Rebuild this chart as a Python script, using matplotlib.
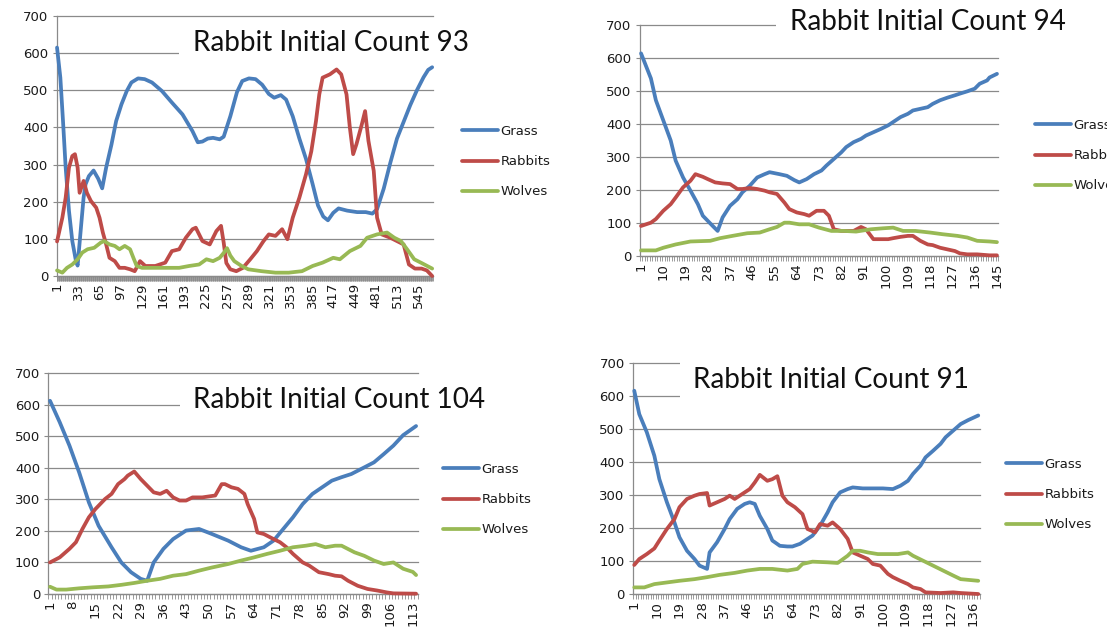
import numpy as np
import matplotlib
matplotlib.use('Agg')
import matplotlib.pyplot as plt
from matplotlib.patches import Rectangle

W, H, DPI = 1107, 635, 100

# ---------------- data ----------------
series_names = ['Grass', 'Rabbits', 'Wolves']

# Panel 1: Rabbit Initial Count 93 (566 steps)
p1_n = 566
p1_grass_x = [1,6,10,14,19,24,29,32,37,41,44,49,56,63,69,75,83,90,98,106,113,123,133,144,159,174,190,205,213,220,
              228,236,246,252,262,272,280,290,300,310,320,328,338,346,356,366,376,386,394,402,409,417,425,438,453,466,
              476,483,493,503,513,523,533,543,553,560,566]
p1_grass_y = [615,534,417,292,175,94,45,28,130,211,247,269,284,262,236,292,354,417,462,498,521,532,530,521,498,467,
              435,390,360,362,370,372,368,375,430,495,525,532,530,515,490,480,487,475,430,370,315,247,190,160,150,170,
              182,176,172,172,168,180,235,305,370,415,460,500,535,555,562]
p1_rabbit_x = [1,9,14,19,24,28,32,35,41,46,52,60,65,70,75,80,88,95,103,111,118,126,134,149,164,174,185,195,205,210,
               220,231,241,248,252,256,262,271,281,292,302,312,320,330,340,348,356,366,376,384,391,396,401,412,422,429,
               437,442,447,452,460,465,470,478,483,490,503,513,523,531,540,550,558,566]
p1_rabbit_y = [93,157,211,292,323,328,292,224,256,224,202,184,157,117,85,49,40,22,22,18,13,40,27,27,36,67,72,103,126,
               130,94,85,121,135,90,35,18,13,22,45,67,94,112,108,126,99,157,211,274,336,417,489,534,543,556,543,489,
               400,328,355,408,444,364,283,157,112,103,94,85,31,20,20,15,0]
p1_wolf_x = [1,9,16,24,32,39,47,57,67,72,80,88,95,103,111,116,121,129,144,164,185,200,215,226,236,246,252,257,262,
             268,279,289,309,330,350,370,386,401,417,427,442,458,468,483,498,509,519,529,539,550,566]
p1_wolf_y = [15,9,22,31,45,63,72,76,90,94,85,81,72,81,72,49,27,22,22,22,22,27,31,45,40,49,62,75,55,40,27,18,13,9,9,
             13,27,36,49,45,67,81,103,112,117,103,94,70,45,35,20]

# Panel 2: Rabbit Initial Count 94 (145 steps)
p2_n = 145
p2_grass_x = [1,5,7,10,13,15,18,21,24,26,30,32,34,37,40,42,45,48,51,53,57,60,63,65,68,71,74,76,79,82,84,87,90,92,95,
              98,101,103,106,109,111,114,117,119,122,125,128,130,133,136,138,141,142,145]
p2_grass_y = [614,538,472,411,350,289,238,198,157,122,91,76,117,152,172,193,213,238,248,254,248,243,230,223,233,248,
              259,274,294,314,330,345,355,365,375,385,396,406,421,431,441,446,451,461,472,480,487,492,499,507,522,532,
              541,552]
p2_rabbit_x = [1,5,7,10,13,15,18,21,23,26,28,31,34,37,40,42,45,48,51,53,56,59,61,64,67,69,72,75,77,79,82,84,87,90,92,
               95,98,101,103,106,109,111,114,117,119,122,125,128,130,133,137,142,145]
p2_rabbit_y = [91,101,112,137,157,177,208,228,248,240,233,223,220,218,203,203,206,203,198,193,188,162,142,132,127,122,
               137,137,122,81,76,76,76,88,81,51,51,51,54,58,61,61,46,35,33,25,20,15,8,5,5,2,2]
p2_wolf_x = [1,7,10,15,21,29,33,38,44,49,53,56,59,61,65,69,73,78,83,88,94,99,103,107,112,118,123,129,133,137,142,145]
p2_wolf_y = [17,17,25,35,44,46,54,61,69,71,81,88,101,101,96,96,86,76,76,74,81,84,86,76,76,71,66,61,56,46,44,42]

# Panel 3: Rabbit Initial Count 104 (114 steps)
p3_n = 114
p3_grass_x = [1,4,7,10,13,16,20,23,26,29,31,33,36,39,43,47,51,56,60,63,67,70,73,76,79,82,85,88,91,94,98,101,104,107,
              110,114]
p3_grass_y = [612,544,470,385,290,216,148,100,69,48,42,100,143,174,201,206,190,169,148,137,148,169,206,243,285,317,
              338,359,370,380,401,417,443,470,503,532]
p3_rabbit_x = [1,4,7,9,11,13,15,18,20,22,24,25,27,29,31,33,35,37,39,41,43,45,48,52,54,55,57,59,61,62,64,65,67,70,72,
               74,76,79,81,84,87,89,91,93,96,99,102,105,107,114]
p3_rabbit_y = [100,116,143,164,206,243,269,301,317,348,364,375,388,364,343,322,317,327,306,296,296,306,306,312,348,
               348,338,333,317,285,238,195,190,174,164,148,127,100,90,69,63,58,56,42,26,16,11,5,2,1]
p3_wolf_x = [1,3,6,10,14,19,23,27,31,35,39,43,47,51,56,60,64,68,72,76,80,83,86,89,91,95,98,101,104,107,110,113,114]
p3_wolf_y = [23,14,14,18,21,24,29,35,42,48,58,63,74,84,95,106,116,127,137,148,153,158,148,153,153,132,121,106,95,
             100,80,70,60]

# Panel 4: Rabbit Initial Count 91 (138 steps)
p4_n = 138
p4_grass_x = [1,3,6,9,11,14,17,19,22,25,27,30,31,34,37,39,42,45,47,49,51,54,56,59,62,64,67,70,72,75,78,80,83,86,88,
              92,96,100,104,107,110,112,115,117,120,123,125,128,131,134,138]
p4_grass_y = [616,545,490,419,348,278,217,172,131,106,86,76,126,157,197,227,258,273,278,273,237,197,162,146,144,144,
              152,167,177,207,247,278,308,318,323,320,320,320,318,328,343,364,389,414,434,455,475,495,515,527,541]
p4_rabbit_x = [1,3,6,9,11,14,17,19,22,25,27,30,31,34,37,39,41,44,47,49,51,54,56,58,60,62,65,68,70,73,75,78,80,83,86,
               88,91,94,96,99,102,104,107,110,112,115,117,123,128,131,138]
p4_rabbit_y = [88,106,121,138,162,197,227,263,288,298,303,306,268,278,288,298,288,303,318,338,361,343,348,357,298,278,
               263,242,197,187,212,207,217,197,167,126,116,106,91,86,61,51,40,30,20,15,5,3,5,3,0]
p4_wolf_x = [1,5,9,14,19,25,30,35,41,46,51,56,62,66,68,72,78,82,86,88,91,94,98,102,106,110,112,116,120,124,128,131,138]
p4_wolf_y = [20,20,30,35,40,45,51,58,64,71,76,76,71,76,91,98,96,94,116,131,131,126,121,121,121,126,116,101,86,71,56,
             45,40]

titles = ['Rabbit Initial Count 93', 'Rabbit Initial Count 94', 'Rabbit Initial Count 104', 'Rabbit Initial Count 91']
label_steps = [32, 9, 7, 9]
y_ticks = [0, 100, 200, 300, 400, 500, 600, 700]

# ---------------- styling / layout ----------------
COLORS = ['#4A7EBB', '#BE4B48', '#98B954']
GRID = '#8A8A8A'
TXT = '#1a1a1a'

fig = plt.figure(figsize=(W / DPI, H / DPI), dpi=DPI)
fig.patch.set_facecolor('white')

def px_axes(left, right, top, bottom):
    return fig.add_axes([left / W, 1 - bottom / H, (right - left) / W, (bottom - top) / H])

panels = [
    dict(n=p1_n, data=[(p1_grass_x, p1_grass_y), (p1_rabbit_x, p1_rabbit_y), (p1_wolf_x, p1_wolf_y)],
         box=(56.7, 432.5, 16, 276), title_xy=(193, 43), cover=(179, 24, 476, 64), leg=(462, 130)),
    dict(n=p2_n, data=[(p2_grass_x, p2_grass_y), (p2_rabbit_x, p2_rabbit_y), (p2_wolf_x, p2_wolf_y)],
         box=(639.8, 998.2, 25, 256), title_xy=(790, 22), cover=(776, 3, 1076, 45), leg=(1035, 124)),
    dict(n=p3_n, data=[(p3_grass_x, p3_grass_y), (p3_rabbit_x, p3_rabbit_y), (p3_wolf_x, p3_wolf_y)],
         box=(48.4, 417.7, 373, 594), title_xy=(193, 400), cover=(180, 381, 492, 420), leg=(443, 468)),
    dict(n=p4_n, data=[(p4_grass_x, p4_grass_y), (p4_rabbit_x, p4_rabbit_y), (p4_wolf_x, p4_wolf_y)],
         box=(633.0, 979.5, 363, 594), title_xy=(693, 380), cover=(680, 356, 982, 404), leg=(1006, 463)),
]

FS_TICK = 9.5
FS_LEG = 9.5

for i, p in enumerate(panels):
    ax = px_axes(*p['box'])
    n = p['n']
    for (xs, ys), name, c in zip(p['data'], series_names, COLORS):
        ax.plot(xs, ys, color=c, lw=2.7, label=name, clip_on=False, solid_joinstyle='round',
                solid_capstyle='round', zorder=3)
    ax.set_xlim(0.5, n + 0.5)
    ax.set_ylim(0, 700)
    ax.set_yticks(y_ticks)
    ax.set_yticklabels([str(v) for v in y_ticks], fontsize=FS_TICK, color=TXT)
    step = label_steps[i]
    majors = list(range(1, n + 1, step))
    ax.set_xticks(majors)
    ax.set_xticklabels([str(m) for m in majors], rotation=90, fontsize=FS_TICK, color=TXT)
    ax.set_xticks(np.arange(0.5, n + 1, 1.0), minor=True)
    ax.tick_params(axis='x', which='major', length=0, pad=5)
    ax.tick_params(axis='x', which='minor', length=3.4, color=GRID, width=0.6, direction='out')
    ax.tick_params(axis='y', which='major', length=3, color=GRID, width=0.8, pad=3)
    ax.yaxis.grid(True, color=GRID, lw=0.9)
    for gl in ax.get_ygridlines():
        gl.set_clip_on(False)
    ax.set_axisbelow(True)
    for s in ['top', 'right']:
        ax.spines[s].set_visible(False)
    for s in ['left', 'bottom']:
        ax.spines[s].set_color(GRID)
        ax.spines[s].set_linewidth(0.9)
    ax.patch.set_alpha(0)
    lx, ly = p['leg']
    ax.legend(loc='upper left', bbox_to_anchor=(lx / W, 1 - (ly - 5) / H), bbox_transform=fig.transFigure,
              frameon=False, fontsize=FS_LEG, handlelength=2.75, handletextpad=0.15, labelspacing=1.3,
              borderpad=0, borderaxespad=0, labelcolor=TXT)
    # white box behind the chart title
    cl, ct, cr, cb = p['cover']
    fig.add_artist(Rectangle((cl / W, 1 - cb / H), (cr - cl) / W, (cb - ct) / H, transform=fig.transFigure,
                             facecolor='white', edgecolor='none', zorder=2))

# titles, fitted so that "Rabbit Initial Count 93" is ~275 px wide
renderer = fig.canvas.get_renderer()
probe = fig.text(0, 0, titles[0], fontsize=18, family=['Lato', 'DejaVu Sans'])
wprobe = probe.get_window_extent(renderer).width
probe.remove()
title_fs = 18 * 275.0 / wprobe
for p, t in zip(panels, titles):
    tx, ty = p['title_xy']
    fig.text(tx / W, 1 - ty / H, t, fontsize=title_fs, family=['Lato', 'DejaVu Sans'], color='#111111',
             ha='left', va='center', zorder=3)

fig.savefig('out.png', dpi=DPI, facecolor='white')
